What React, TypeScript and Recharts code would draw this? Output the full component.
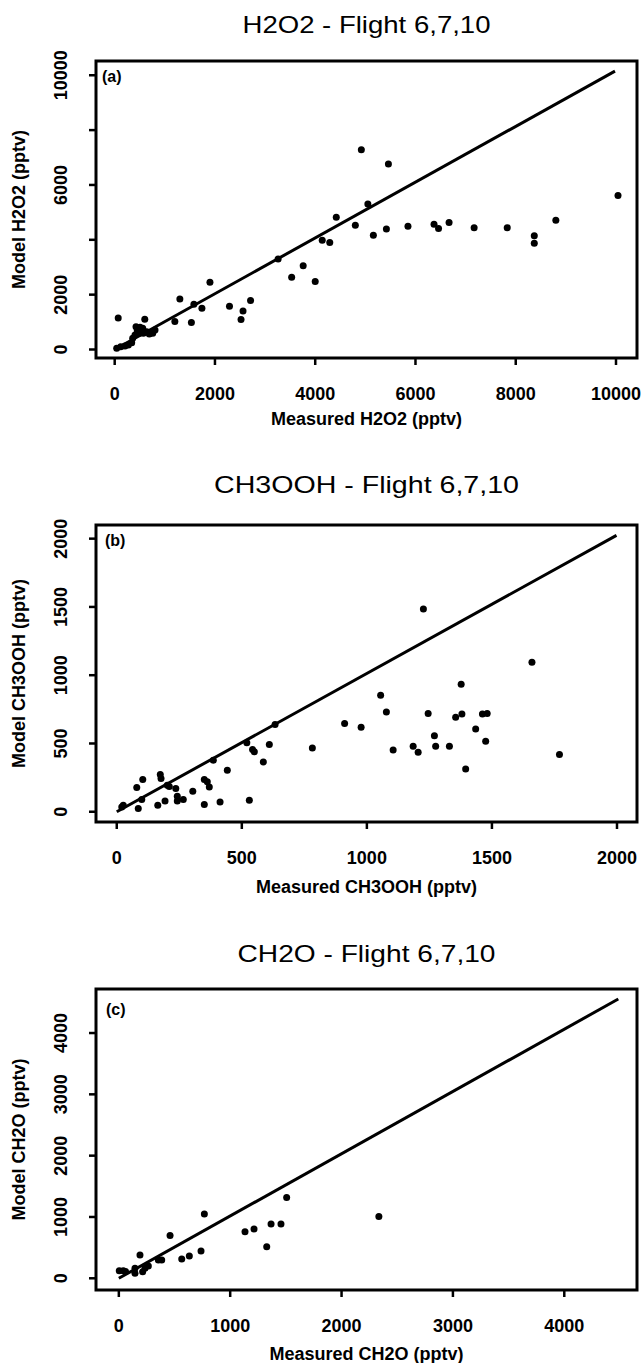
import React from "react";
import { ScatterChart, Scatter, XAxis, YAxis, ReferenceLine, ReferenceArea } from "recharts";

// (a) H2O2
const h2o2Measured = [
  40, 120, 205, 272, 339, 359, 405, 451, 505, 559, 571, 638, 690, 758, 804, 491, 425,
  70, 600, 1300, 1200, 1530, 1580, 1740, 1900, 2290, 2560, 2520, 2710, 4000, 3260, 3530,
  3760, 4140, 4290, 4420, 4800, 4920, 5050, 5160, 5420, 5460, 5850, 6370, 6460, 6670,
  7170, 7830, 8370, 8370, 8800, 10040,
];
const h2o2Model = [
  44, 102, 128, 164, 248, 408, 529, 686, 810, 773, 591, 649, 565, 591, 711, 591, 832,
  1150, 1100, 1840, 1020, 985, 1650, 1500, 2450, 1580, 1400, 1095, 1790, 2480, 3300, 2630,
  3050, 3980, 3900, 4820, 4530, 7280, 5310, 4170, 4390, 6760, 4490, 4570, 4410, 4630,
  4440, 4440, 4150, 3870, 4710, 5620,
];
const h2o2Ticks = [0, 2000, 4000, 6000, 8000, 10000];
const h2o2YLabels = [0, 2000, 6000, 10000];
const h2o2LineX = [0, 9980];
const h2o2LineY = [0, 10150];

// (b) CH3OOH
const ch3oohMeasured = [
  26, 20, 80, 86, 104, 100, 164, 174, 177, 193, 202, 210, 236, 242, 242, 266, 304, 350,
  362, 370, 350, 386, 413, 442, 520, 530, 543, 550, 586, 610, 633, 782, 911, 977, 1055,
  1078, 1105, 1185, 1205, 1245, 1270, 1275, 1330, 1226, 1377, 1355, 1380, 1395, 1435,
  1462, 1481, 1475, 1660, 1770,
];
const ch3oohModel = [
  48, 35, 177, 23, 236, 89, 48, 273, 243, 79, 194, 185, 170, 114, 79, 89, 150, 236,
  219, 182, 53, 378, 72, 304, 505, 84, 456, 439, 365, 493, 639, 467, 646, 619, 853,
  731, 452, 479, 435, 719, 557, 479, 479, 1484, 934, 692, 716, 313, 606,
  716, 720, 516, 1095, 420,
];
const ch3oohTicks = [0, 500, 1000, 1500, 2000];
const ch3oohLineX = [0, 1998];
const ch3oohLineY = [0, 2024];

// (c) CH2O
const ch2oMeasured = [
  4, 40, 60, 145, 145, 190, 214, 235, 265, 355, 385, 460, 565, 633, 738, 768, 1133,
  1214, 1328, 1367, 1456, 1507, 2335,
];
const ch2oModel = [
  124, 124, 110, 163, 82, 380, 108, 163, 201, 299, 299, 696, 315, 364, 446, 1050, 761,
  805, 516, 887, 887, 1316, 1007,
];
const ch2oTicks = [0, 1000, 2000, 3000, 4000];
const ch2oLineX = [0, 4485];
const ch2oLineY = [0, 4555];

const panelTitles = ["H2O2 - Flight 6,7,10", "CH3OOH - Flight 6,7,10", "CH2O - Flight 6,7,10"];
const panelTags = ["(a)", "(b)", "(c)"];
const xTitles = ["Measured H2O2 (pptv)", "Measured CH3OOH (pptv)", "Measured CH2O (pptv)"];
const yTitles = ["Model H2O2 (pptv)", "Model CH3OOH (pptv)", "Model CH2O (pptv)"];

const FONT = "'Liberation Sans', Arial, Helvetica, sans-serif";
const PLOT_LEFT = 96;
const PLOT_RIGHT = 637;
const X_AXIS_H = 80;

const tickStroke = { stroke: "#000", strokeWidth: 2.5 };

function XTick(props: any) {
  const { x, y, payload } = props;
  return (
    <text x={x} y={y} dy="0.71em" textAnchor="middle" fontFamily={FONT} fontSize={18} fontWeight="bold" fill="#000">
      {payload.value}
    </text>
  );
}

function YTick(props: any) {
  const { x, y, payload, labels } = props;
  if (labels && !labels.includes(payload.value)) return <g />;
  return (
    <text x={x} y={y} transform={`rotate(-90 ${x} ${y})`} textAnchor="middle" fontFamily={FONT} fontSize={18} fontWeight="bold" fill="#000">
      {payload.value}
    </text>
  );
}

const Dot = (p: any) => <circle cx={p.cx} cy={p.cy} r={3.5} fill="#000" />;

function Panel({ top, plotTop, plotBottom, xs, ys, xDomain, yDomain, xTicks, yTicks, yLabels, lineX, lineY }: any) {
  const height = plotBottom - top + X_AXIS_H;
  const data = xs.map((x: number, i: number) => ({ x, y: ys[i] }));
  return (
    <div style={{ position: "absolute", left: 0, top }}>
      <ScatterChart width={642} height={height} margin={{ top: plotTop - top, right: 642 - PLOT_RIGHT, bottom: 0, left: 0 }}>
        <XAxis type="number" dataKey="x" domain={xDomain} ticks={xTicks} interval={0} allowDataOverflow
          height={X_AXIS_H} tickSize={7} tickMargin={22} axisLine={false} tickLine={tickStroke} tick={<XTick />} />
        <YAxis type="number" dataKey="y" domain={yDomain} ticks={yTicks} interval={0} allowDataOverflow
          width={PLOT_LEFT} tickSize={7} tickMargin={22} axisLine={false} tickLine={tickStroke}
          tick={(p: any) => <YTick {...p} labels={yLabels} />} />
        <ReferenceArea x1={xDomain[0]} x2={xDomain[1]} y1={yDomain[0]} y2={yDomain[1]}
          fill="none" fillOpacity={0} stroke="#000" strokeWidth={3} ifOverflow="visible" />
        <ReferenceLine
          segment={[{ x: lineX[0], y: lineY[0] }, { x: lineX[1], y: lineY[1] }]}
          stroke="#000" strokeWidth={3} />
        <Scatter data={data} shape={Dot} isAnimationActive={false} />
      </ScatterChart>
    </div>
  );
}

const panels = [
  { top: 0, plotTop: 61, plotBottom: 358, xs: h2o2Measured, ys: h2o2Model, xDomain: [-373, 10419], yDomain: [-310, 10520],
    xTicks: h2o2Ticks, yTicks: h2o2Ticks, yLabels: h2o2YLabels, lineX: h2o2LineX, lineY: h2o2LineY,
    titleY: 33, titleLen: 248, tagX: 102, tagY: 82, xTitleY: 425 },
  { top: 464, plotTop: 525, plotBottom: 822, xs: ch3oohMeasured, ys: ch3oohModel, xDomain: [-83, 2080], yDomain: [-75, 2100],
    xTicks: ch3oohTicks, yTicks: ch3oohTicks, yLabels: null, lineX: ch3oohLineX, lineY: ch3oohLineY,
    titleY: 493, titleLen: 305, tagX: 105, tagY: 546, xTitleY: 893 },
  { top: 928, plotTop: 989, plotBottom: 1290, xs: ch2oMeasured, ys: ch2oModel, xDomain: [-205, 4653], yDomain: [-191, 4718],
    xTicks: ch2oTicks, yTicks: ch2oTicks, yLabels: null, lineX: ch2oLineX, lineY: ch2oLineY,
    titleY: 962, titleLen: 258, tagX: 106, tagY: 1015, xTitleY: 1360 },
];

export default function App() {
  const cx = (PLOT_LEFT + PLOT_RIGHT) / 2;
  return (
    <div style={{ position: "absolute", left: 0, top: 0, width: 642, height: 1363, background: "#fff" }}>
      {panels.map((p, i) => (
        <Panel key={i} {...p} />
      ))}
      <svg width={642} height={1363} style={{ position: "absolute", left: 0, top: 0, pointerEvents: "none" }}>
        {panels.map((p, i) => {
          const cy = (p.plotTop + p.plotBottom) / 2;
          return (
            <g key={i} fontFamily={FONT} fill="#000">
              <text x={cx} y={p.titleY} textAnchor="middle" fontSize={24} textLength={p.titleLen} lengthAdjust="spacingAndGlyphs">
                {panelTitles[i]}
              </text>
              <text x={p.tagX} y={p.tagY} fontSize={16} fontWeight="bold">{panelTags[i]}</text>
              <text x={cx} y={p.xTitleY} textAnchor="middle" fontSize={18} fontWeight="bold">{xTitles[i]}</text>
              <text x={25} y={cy} transform={`rotate(-90 25 ${cy})`} textAnchor="middle" fontSize={18} fontWeight="bold">
                {yTitles[i]}
              </text>
            </g>
          );
        })}
      </svg>
    </div>
  );
}
